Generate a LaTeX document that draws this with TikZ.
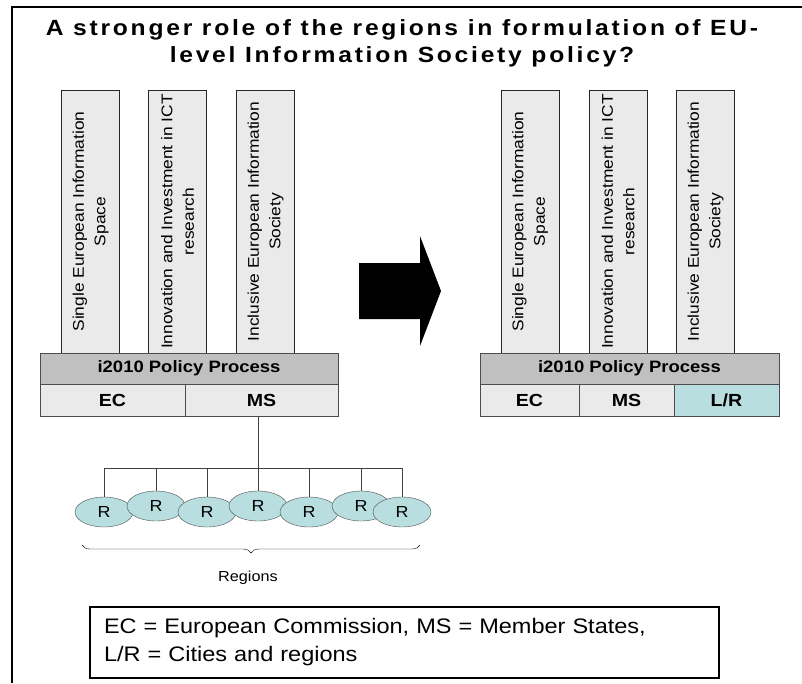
\documentclass[tikz,border=0pt]{standalone}
\usepackage{fontspec}
\setmainfont{Liberation Sans}[FakeStretch=1.12]
\usetikzlibrary{shapes.geometric,decorations.pathreplacing}
\definecolor{pillargray}{HTML}{EAEAEA}
\definecolor{bargray}{HTML}{C0C0C0}
\definecolor{regionblue}{HTML}{B8DEE0}
\tikzset{
    pillar/.style={draw=black!85, fill=pillargray, rotate=90, minimum width=263pt, minimum height=58pt,
        inner sep=0pt, align=center, font=\fontsize{15.5}{21.5}\selectfont},
    bar/.style={draw=black!70, fill=bargray, minimum height=31pt, inner sep=0pt,
        font=\fontsize{16.5}{18}\selectfont\bfseries},
    cell/.style={draw=black!70, fill=pillargray, minimum height=32pt, inner sep=0pt,
        font=\fontsize{17.5}{19}\selectfont\bfseries},
    region/.style={ellipse, draw=black!70, fill=regionblue, minimum width=58pt, minimum height=30pt,
        inner sep=0pt, font=\fontsize{16}{18}\selectfont}
}
\begin{document}
\begin{tikzpicture}[x=1pt, y=-1pt]
    \useasboundingbox (0,0) rectangle (802,683);
    \draw[line width=2pt] (12,683) -- (12,7) -- (802,7);
    \node[align=center, font=\fontsize{22}{27}\selectfont\bfseries\addfontfeatures{LetterSpace=12.5}] (title) at (402,43)
        {A stronger role of the regions in formulation of EU-\\level Information Society policy?};

    \node[pillar] (lp1) at (90.5,221.5) {Single European Information\\Space};
    \node[pillar] (lp2) at (177.5,221.5) {Innovation and Investment in ICT\\research};
    \node[pillar] (lp3) at (265.5,221.5) {Inclusive European Information\\Society};
    \node[bar, minimum width=298pt] (lbar) at (189,368.5) {i2010 Policy Process};
    \node[cell, minimum width=145pt] (lec) at (112.5,400) {EC};
    \node[cell, minimum width=153pt] (lms) at (261.5,400) {MS};

    \node[pillar] (rp1) at (530,221.5) {Single European Information\\Space};
    \node[pillar] (rp2) at (618,221.5) {Innovation and Investment in ICT\\research};
    \node[pillar] (rp3) at (705.5,221.5) {Inclusive European Information\\Society};
    \node[bar, minimum width=299pt] (rbar) at (629.5,368.5) {i2010 Policy Process};
    \node[cell, minimum width=99pt] (rec) at (529.5,400) {EC};
    \node[cell, minimum width=95pt] (rms) at (626.5,400) {MS};
    \node[cell, fill=regionblue, minimum width=105pt] (rlr) at (726.5,400) {L/R};

    \fill (359,263) -- (420,263) -- (420,236) -- (441,291) -- (420,346) -- (420,319) -- (359,319) -- cycle;

    \foreach \i/\x/\y in {1/104/512, 2/156/506, 3/207/512, 4/258/506, 5/309/512, 6/361/506, 7/402/512}
        \node[region] (r\i) at (\x,\y) {R};
    \coordinate (bus) at (0,468);
    \draw[black!75] (r4.north |- lms.south) -- (r4.north |- bus);
    \draw[black!75] (r1.north |- bus) -- (r7.north |- bus);
    \foreach \i in {1,...,7}
        \draw[black!75] (r\i.north) -- (r\i.north |- bus);

    \coordinate (bl) at (82,545);
    \coordinate (br) at (420,545);
    \draw[decorate, decoration={brace, mirror, amplitude=8pt}] (bl) -- (br);
    \node[font=\fontsize{14.5}{16}\selectfont] (regions) at (248,578) {Regions};

    \node[draw, line width=2pt, minimum width=629pt, minimum height=71pt, text width=601pt, inner xsep=14pt,
        align=left, font=\fontsize{21}{28}\selectfont] (legend) at (404.5,642.5)
        {EC = European Commission, MS = Member States,\\L/R = Cities and regions};
\end{tikzpicture}
\end{document}
